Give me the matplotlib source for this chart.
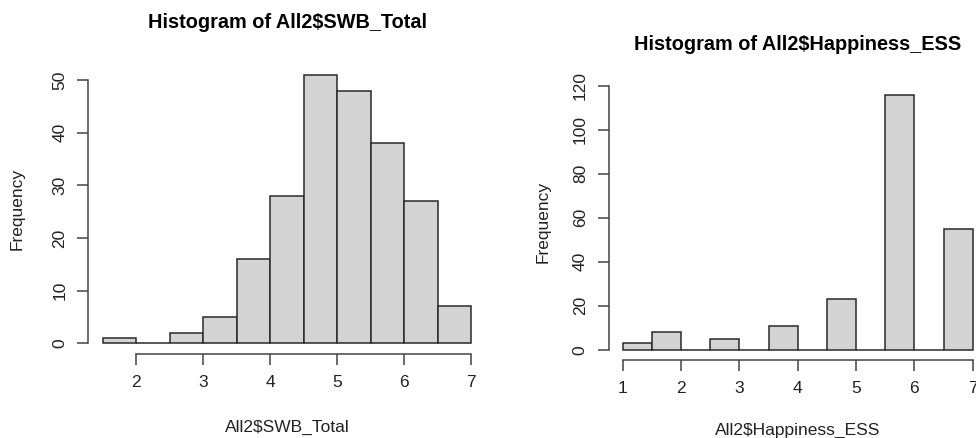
import matplotlib.pyplot as plt

# datos de los dos histogramas (bordes de clase y frecuencias)
swb_edges = [1.5, 2.0, 2.5, 3.0, 3.5, 4.0, 4.5, 5.0, 5.5, 6.0, 6.5, 7.0]
swb_counts = [1, 0, 2, 5, 16, 28, 51, 48, 38, 27, 7]
swb_xticks = [2, 3, 4, 5, 6, 7]
swb_yticks = [0, 10, 20, 30, 40, 50]

ess_edges = [1.0, 1.5, 2.0, 2.5, 3.0, 3.5, 4.0, 4.5, 5.0, 5.5, 6.0, 6.5, 7.0]
ess_counts = [3, 8, 0, 5, 0, 11, 0, 23, 0, 116, 0, 55]
ess_xticks = [1, 2, 3, 4, 5, 6, 7]
ess_yticks = [0, 20, 40, 60, 80, 100, 120]

plt.rcParams['font.family'] = ['Liberation Sans', 'DejaVu Sans']

W, H = 976, 438
fig = plt.figure(figsize=(W / 100, H / 100), dpi=100)


def r_hist(box, edges, counts, xticks, yticks, title, xlabel, title_y, xlab_y, ylab_x):
    # box = (left, top, right, bottom) en pixeles
    l, t, r, b = box
    ax = fig.add_axes([l / W, 1 - b / H, (r - l) / W, (b - t) / H])
    ax.bar(edges[:-1], counts, width=[edges[i + 1] - edges[i] for i in range(len(counts))],
           align='edge', color='#d3d3d3', edgecolor='#2a2a2a', linewidth=1.1)
    xr = edges[-1] - edges[0]
    ax.set_xlim(edges[0] - 0.04 * xr, edges[-1] + 0.04 * xr)
    ax.set_ylim(-0.04 * max(counts), 1.04 * max(counts))
    for s in ['top', 'right']:
        ax.spines[s].set_visible(False)
    ax.spines['bottom'].set_bounds(xticks[0], xticks[-1])
    ax.spines['left'].set_bounds(yticks[0], yticks[-1])
    for s in ['bottom', 'left']:
        ax.spines[s].set_color('#444444')
        ax.spines[s].set_linewidth(1.1)
    ax.set_xticks(xticks)
    ax.set_yticks(yticks)
    ax.set_yticklabels([str(v) for v in yticks], rotation=90, va='center')
    ax.tick_params(length=8, width=1.1, color='#444444', labelsize=12.5, labelcolor='#222222', pad=7)
    ax.patch.set_alpha(0)
    cx = (l + r) / 2
    fig.text(cx / W, 1 - title_y / H, title, ha='center', va='center',
             fontsize=14.3, fontweight='bold')
    fig.text(cx / W, 1 - xlab_y / H, xlabel, ha='center', va='center',
             fontsize=12.5, color='#222222')
    fig.text(ylab_x / W, 1 - ((t + b) / 2) / H, 'Frequency', ha='center', va='center',
             rotation=90, fontsize=12.5, color='#222222')
    return ax


r_hist((88, 64, 486, 354), swb_edges, swb_counts, swb_xticks, swb_yticks,
       'Histogram of All2$SWB_Total', 'All2$SWB_Total', 23, 427, 17)
r_hist((608.7, 84.3, 986.7, 360), ess_edges, ess_counts, ess_xticks, ess_yticks,
       'Histogram of All2$Happiness_ESS', 'All2$Happiness_ESS', 45, 430, 543)

fig.savefig('out.png', dpi=100)
